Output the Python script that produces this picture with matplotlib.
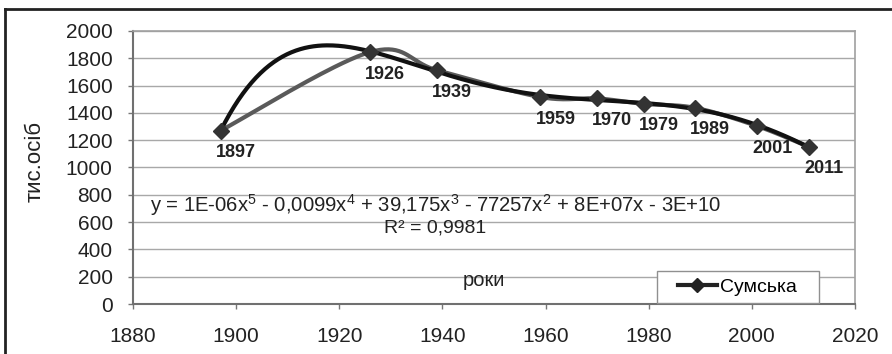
import numpy as np
import matplotlib
matplotlib.use("Agg")
import matplotlib.pyplot as plt
from matplotlib.lines import Line2D
from matplotlib.patches import Rectangle

years = [1897, 1926, 1939, 1959, 1970, 1979, 1989, 2001, 2011]
population = [1270, 1846, 1712, 1516, 1506, 1466, 1437, 1304, 1152]
labels = ["1897", "1926", "1939", "1959", "1970", "1979", "1989", "2001", "2011"]
series_name = "Сумська"
equation = "y = 1E-06x$^5$ - 0,0099x$^4$ + 39,175x$^3$ - 77257x$^2$ + 8E+07x - 3E+10"
r2_text = "R² = 0,9981"
xlabel_text = "роки"
ylabel_text = "тис.осіб"
xticks = [1880, 1900, 1920, 1940, 1960, 1980, 2000, 2020]
yticks = list(range(0, 2001, 200))

plt.rcParams['font.family'] = ['Liberation Sans', 'DejaVu Sans']
plt.rcParams['mathtext.fontset'] = 'custom'
plt.rcParams['mathtext.rm'] = 'Liberation Sans'
plt.rcParams['mathtext.it'] = 'Liberation Sans'

W, H = 892, 354
fig = plt.figure(figsize=(W / 100, H / 100), dpi=100)
ax = fig.add_axes([133/W, 50/H, 722/W, 273/H])

# outer frame (left and top visible)
fig.add_artist(Line2D([5/W, 5/W], [0, 1 - 9/H], transform=fig.transFigure, color='#222222', lw=2))
fig.add_artist(Line2D([5/W, 1], [1 - 9/H, 1 - 9/H], transform=fig.transFigure, color='#222222', lw=2))

x = np.array(years, dtype=float)
y = np.array(population, dtype=float)

# Excel-like smoothed line (Catmull-Rom Bezier)
def smooth(xs, ys, n=40):
    P = np.column_stack([xs, ys])
    out = []
    for i in range(len(P) - 1):
        p0 = P[i - 1] if i > 0 else P[i]
        p1 = P[i]
        p2 = P[i + 1]
        p3 = P[i + 2] if i + 2 < len(P) else P[i + 1]
        c1 = p1 + (p2 - p0) / 6.0
        c2 = p2 - (p3 - p1) / 6.0
        t = np.linspace(0, 1, n)[:, None]
        seg = (1 - t) ** 3 * p1 + 3 * (1 - t) ** 2 * t * c1 + 3 * (1 - t) * t ** 2 * c2 + t ** 3 * p2
        out.append(seg if i == 0 else seg[1:])
    out = np.vstack(out)
    return out[:, 0], out[:, 1]

sx, sy = smooth(x, y)
ax.plot(sx, sy, color='#5a5a5a', lw=3, zorder=3, solid_capstyle='round')

# polynomial trend (degree 5)
xc = x.mean()
coef = np.polyfit(x - xc, y, 5)
tx = np.linspace(x.min(), x.max(), 400)
ty = np.polyval(coef, tx - xc)
ax.plot(tx, ty, color='#111111', lw=3, zorder=4)

ax.plot(x, y, linestyle='none', marker='D', markersize=8.5, color='#333333', zorder=5)

for xi, yi, lab in zip(x, y, labels):
    ax.annotate(lab, (xi, yi), xytext=(15, -22), textcoords='offset pixels',
                ha='center', va='center', fontsize=13, fontweight='bold', color='#222222', zorder=6)

ax.set_xlim(1880, 2020)
ax.set_ylim(0, 2000)
ax.set_xticks(xticks)
ax.set_yticks(yticks)
ax.tick_params(axis='both', labelsize=15, colors='#222222', length=3.6, width=1, direction='out')
ax.tick_params(axis='both', color='#777777')
ax.tick_params(axis='x', pad=13)
ax.tick_params(axis='y', pad=11)
ax.grid(axis='y', color='#a8a8a8', lw=1)
ax.set_axisbelow(True)
for side in ['top', 'right']:
    ax.spines[side].set_color('#a0a0a0')
    ax.spines[side].set_linewidth(1.2)
for side in ['left', 'bottom']:
    ax.spines[side].set_color('#707070')
    ax.spines[side].set_linewidth(1.5)

fig.text(35/W, 1 - 162/H, ylabel_text, fontsize=16, color='#222222', rotation=90,
         va='center', ha='center')

fig.text(150/W, 1 - 205/H, equation, fontsize=14.6, color='#222222', va='center', ha='left')
fig.text(384/W, 1 - 228/H, r2_text, fontsize=14, color='#222222', va='center', ha='left')
fig.text(463/W, 1 - 280/H, xlabel_text, fontsize=14.5, color='#222222', va='center', ha='left')

# legend box
fig.add_artist(Rectangle((657/W, 1 - 303/H), (819 - 657)/W, 32/H, transform=fig.transFigure,
                         facecolor='white', edgecolor='#909090', lw=1, zorder=7))
handle = Line2D([0], [0], color='#222222', lw=3, marker='D', markersize=7)
leg = fig.legend([handle], [series_name], loc='center left',
                 bbox_to_anchor=(678/W, 1 - 287/H), fontsize=14, frameon=False,
                 handlelength=2.0, handletextpad=0.15, borderpad=0, borderaxespad=0)
leg.set_zorder(8)

fig.savefig('out.png', dpi=100)
